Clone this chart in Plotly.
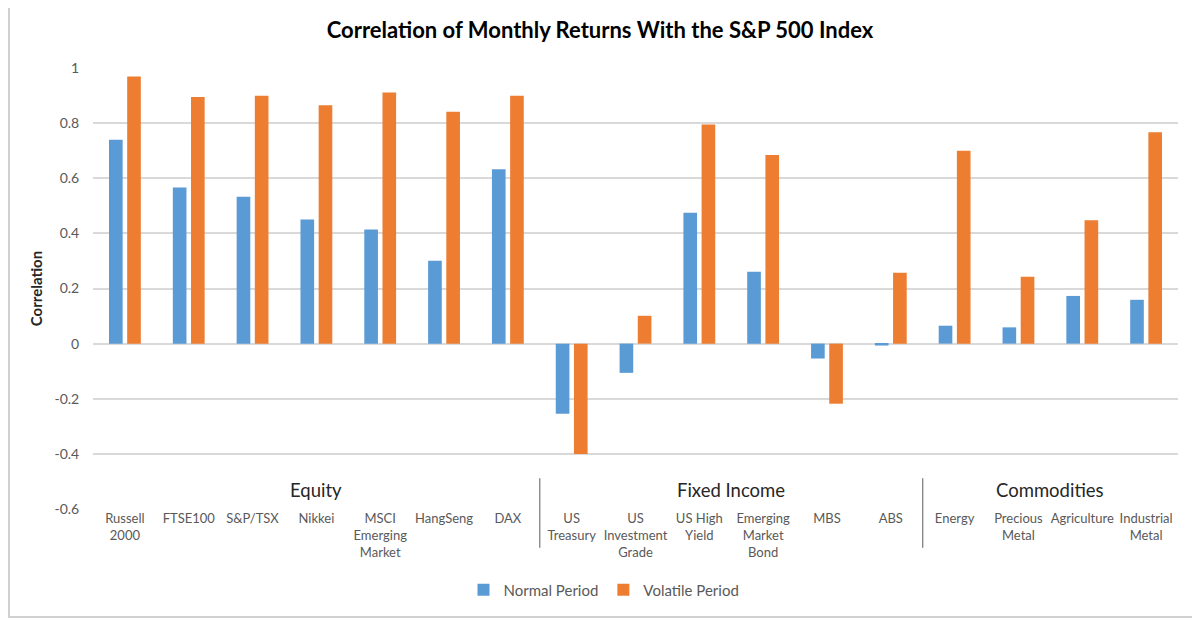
import plotly.graph_objects as go

categories = ["Russell<br>2000", "FTSE100", "S&P/TSX", "Nikkei", "MSCI<br>Emerging<br>Market",
              "HangSeng", "DAX", "US<br>Treasury", "US<br>Investment<br>Grade", "US High<br>Yield",
              "Emerging<br>Market<br>Bond", "MBS", "ABS", "Energy", "Precious<br>Metal",
              "Agriculture", "Industrial<br>Metal"]
normal_period = [0.740, 0.566, 0.533, 0.450, 0.414, 0.301, 0.633, -0.254, -0.106, 0.475,
                 0.261, -0.054, -0.007, 0.065, 0.059, 0.173, 0.159]
volatile_period = [0.969, 0.895, 0.899, 0.865, 0.911, 0.841, 0.899, -0.400, 0.101, 0.795,
                   0.684, -0.218, 0.257, 0.700, 0.243, 0.448, 0.767]
groups = ["Equity", "Fixed Income", "Commodities"]
group_sizes = [7, 6, 4]
y_tickvals = [-0.6, -0.4, -0.2, 0, 0.2, 0.4, 0.6, 0.8, 1.0]
y_ticktext = ["-0.6", "-0.4", "-0.2", "0", "0.2", "0.4", "0.6", "0.8", "1"]

FONT = "Lato, 'Open Sans', sans-serif"
GRAY = "#595959"

fig = go.Figure()
fig.add_trace(go.Bar(x=categories, y=normal_period, name="Normal Period",
                     marker=dict(color="#5B9BD5", line=dict(width=0))))
fig.add_trace(go.Bar(x=categories, y=volatile_period, name="Volatile Period",
                     marker=dict(color="#ED7D31", line=dict(width=0))))

# group labels and separators
start = 0
for g, n in zip(groups, group_sizes):
    center = start + (n - 1) / 2
    fig.add_annotation(x=center, y=-0.53, xref="x", yref="y", text=g, showarrow=False,
                       font=dict(family=FONT, size=18.5, color="#262626"))
    if start + n < len(categories):
        sep = start + n - 0.5
        fig.add_shape(type="line", xref="x", yref="paper", x0=sep, x1=sep, y0=0.07, y1=-0.088,
                      line=dict(color="#7F7F7F", width=1.3))
    start += n

# outer frame
fig.add_shape(type="rect", xref="paper", yref="paper",
              x0=-84 / 1085, x1=(1186 - 85) / 1085, y0=(501 - 609) / 441, y1=(501 + 1) / 441,
              line=dict(color="#D0D0D0", width=2), fillcolor="rgba(0,0,0,0)", layer="below")

fig.update_layout(
    width=1192, height=611,
    margin=dict(l=85, r=22, t=60, b=110, autoexpand=False),
    paper_bgcolor="white", plot_bgcolor="white",
    title=dict(text="<b>Correlation of Monthly Returns With the S&P 500 Index</b>",
               x=(600 - 8) / 1192, xref="container", xanchor="center",
               y=1 - 22 / 611, yref="container", yanchor="middle",
               font=dict(family=FONT, size=22, color="#000000")),
    barmode="group", bargap=0.43, bargroupgap=0.25,
    showlegend=True,
    legend=dict(orientation="h", x=(604 - 8) / 1192, xref="container", xanchor="center",
                y=1 - 582 / 611, yref="container", yanchor="middle",
                font=dict(family=FONT, size=15, color=GRAY), itemwidth=30,
                traceorder="normal"),
    font=dict(family=FONT, color=GRAY),
)
fig.update_yaxes(range=[-0.6, 1.0], tickmode="array", tickvals=y_tickvals, ticktext=y_ticktext,
                 showgrid=True, gridcolor="#D9D9D9",
                 gridwidth=1.5, zeroline=False, showline=False, automargin=False,
                 tickfont=dict(family=FONT, size=14, color=GRAY),
                 ticks="outside", ticklen=10, tickcolor="white",
                 title=dict(text="<b>Correlation</b>", font=dict(family=FONT, size=15, color="#262626"),
                            standoff=8))
fig.update_xaxes(showgrid=False, showline=False, zeroline=False, ticks="", automargin=False,
                 tickfont=dict(family=FONT, size=13, color=GRAY), tickangle=0)

fig.write_html("out.html")
